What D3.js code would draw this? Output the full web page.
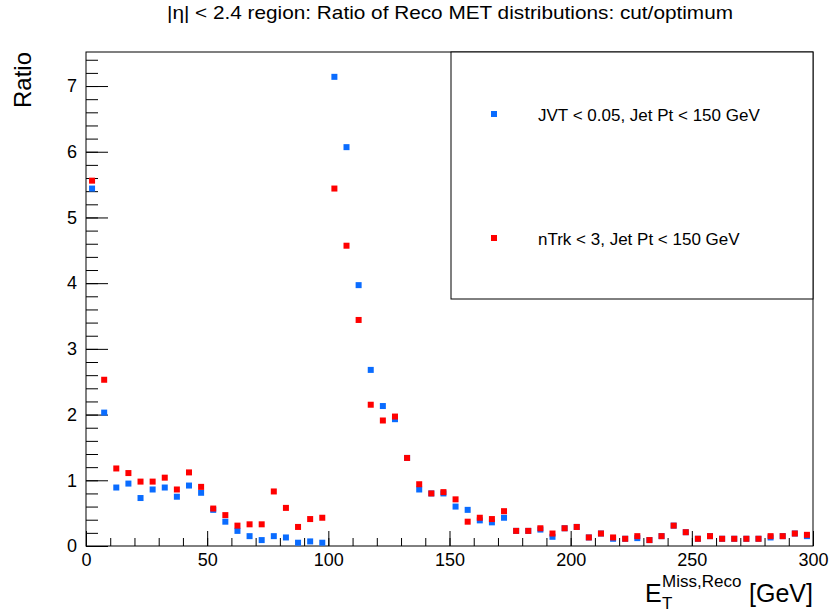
<!DOCTYPE html>
<html>
<head>
<meta charset="utf-8">
<script src="https://cdn.jsdelivr.net/npm/d3@7"></script>
<style>
  body { margin: 0; background: #fff; }
  svg { font-family: "Liberation Sans", Arial, sans-serif; }
</style>
</head>
<body>
<svg id="chart" width="830" height="612"></svg>
<script>
  // data: bin centres (GeV) and the two ratio series
  const binCenters = [
    2.5, 7.5, 12.5, 17.5, 22.5, 27.5, 32.5, 37.5, 42.5, 47.5,
    52.5, 57.5, 62.5, 67.5, 72.5, 77.5, 82.5, 87.5, 92.5, 97.5,
    102.5, 107.5, 112.5, 117.5, 122.5, 127.5, 132.5, 137.5, 142.5, 147.5,
    152.5, 157.5, 162.5, 167.5, 172.5, 177.5, 182.5, 187.5, 192.5, 197.5,
    202.5, 207.5, 212.5, 217.5, 222.5, 227.5, 232.5, 237.5, 242.5, 247.5,
    252.5, 257.5, 262.5, 267.5, 272.5, 277.5, 282.5, 287.5, 292.5, 297.5
  ]

  const jvtRatio = [
    5.44, 2.03, 0.89, 0.95, 0.73, 0.86, 0.89, 0.75, 0.92, 0.81,
    0.55, 0.37, 0.23, 0.15, 0.09, 0.15, 0.13, 0.05, 0.07, 0.05,
    7.14, 6.07, 3.97, 2.68, 2.13, 1.93, 1.34, 0.86, 0.80, 0.80,
    0.60, 0.55, 0.39, 0.36, 0.43, 0.23, 0.23, 0.25, 0.14, 0.27,
    0.29, 0.13, 0.19, 0.11, 0.11, 0.12, 0.09, 0.15, 0.31, 0.21,
    0.11, 0.15, 0.11, 0.11, 0.11, 0.11, 0.13, 0.15, 0.19, 0.15
  ]

  const ntrkRatio = [
    5.56, 2.53, 1.18, 1.11, 0.98, 0.98, 1.04, 0.86, 1.12, 0.90,
    0.57, 0.47, 0.31, 0.33, 0.33, 0.83, 0.58, 0.29, 0.41, 0.43,
    5.44, 4.57, 3.44, 2.15, 1.91, 1.97, 1.34, 0.94, 0.80, 0.82,
    0.71, 0.37, 0.43, 0.41, 0.53, 0.23, 0.23, 0.27, 0.19, 0.27,
    0.29, 0.13, 0.19, 0.13, 0.11, 0.15, 0.09, 0.15, 0.31, 0.21,
    0.11, 0.15, 0.11, 0.11, 0.11, 0.11, 0.15, 0.15, 0.19, 0.17
  ]

  const xTicks = [0, 50, 100, 150, 200, 250, 300]
  const yTicks = [0, 1, 2, 3, 4, 5, 6, 7]

  const series = [
    { name: 'JVT < 0.05, Jet Pt < 150 GeV', values: jvtRatio, color: '#0a6cff' },
    { name: 'nTrk < 3, Jet Pt < 150 GeV', values: ntrkRatio, color: '#ff0000' }
  ]

  // frame geometry
  const frameL = 86, frameR = 813, frameT = 52, frameB = 546
  const svg = d3.select('#chart')

  const x = d3.scaleLinear().domain([0, 300]).range([frameL, frameR])
  const y = d3.scaleLinear().domain([0, 7.518]).range([frameB, frameT])

  // title
  svg.append('text')
    .attr('x', 450).attr('y', 19)
    .attr('text-anchor', 'middle')
    .attr('textLength', 566)
    .attr('lengthAdjust', 'spacingAndGlyphs')
    .style('font-size', '18.5px')
    .text('|η| < 2.4 region: Ratio of Reco MET distributions: cut/optimum')

  // x axis, ticks drawn inside the frame
  svg.append('g')
    .attr('transform', `translate(0,${frameB})`)
    .call(d3.axisBottom(x).tickValues(d3.range(0, 301, 10)).tickSize(-8).tickFormat(''))
    .call(g => g.select('.domain').remove())
  svg.append('g')
    .attr('transform', `translate(0,${frameB})`)
    .call(d3.axisBottom(x).tickValues(xTicks).tickSize(-15).tickPadding(7))
    .call(g => g.select('.domain').remove())
    .call(g => g.selectAll('text').style('font-size', '18px').attr('fill', '#000'))

  // y axis
  svg.append('g')
    .attr('transform', `translate(${frameL},0)`)
    .call(d3.axisLeft(y).tickValues(d3.range(0, 7.5, 0.2)).tickSize(-12).tickFormat(''))
    .call(g => g.select('.domain').remove())
  svg.append('g')
    .attr('transform', `translate(${frameL},0)`)
    .call(d3.axisLeft(y).tickValues(yTicks).tickSize(-22).tickPadding(9))
    .call(g => g.select('.domain').remove())
    .call(g => g.selectAll('text').style('font-size', '18px').attr('fill', '#000'))

  svg.selectAll('.tick line').attr('stroke', '#000')

  // frame
  svg.append('rect')
    .attr('x', frameL).attr('y', frameT)
    .attr('width', frameR - frameL).attr('height', frameB - frameT)
    .attr('fill', 'none').attr('stroke', '#000').attr('stroke-width', 1)

  // markers
  const size = 6
  series.forEach(s => {
    svg.append('g').selectAll('rect')
      .data(binCenters.map((c, i) => [c, s.values[i]]))
      .enter().append('rect')
      .attr('x', d => x(d[0]) - size / 2)
      .attr('y', d => y(d[1]) - size / 2)
      .attr('width', size).attr('height', size)
      .attr('fill', s.color)
  })

  // legend
  svg.append('rect')
    .attr('x', 451).attr('y', frameT)
    .attr('width', frameR - 451).attr('height', 247)
    .attr('fill', '#fff').attr('stroke', '#000')
  series.forEach((s, i) => {
    const ly = 114 + i * 124
    svg.append('rect')
      .attr('x', 494 - size / 2).attr('y', ly - size / 2)
      .attr('width', size).attr('height', size)
      .attr('fill', s.color)
    svg.append('text')
      .attr('x', 538).attr('y', ly + 6.5)
      .style('font-size', '17px')
      .text(s.name)
  })

  // axis titles
  svg.append('text')
    .attr('transform', 'translate(31,52) rotate(-90)')
    .attr('text-anchor', 'end')
    .style('font-size', '24px')
    .text('Ratio')

  svg.append('text').attr('x', 645).attr('y', 602).style('font-size', '25px').text('E')
  svg.append('text').attr('x', 662).attr('y', 609).style('font-size', '17px').text('T')
  svg.append('text').attr('x', 662).attr('y', 587).style('font-size', '17px').text('Miss,Reco')
  svg.append('text').attr('x', 813).attr('y', 602).attr('text-anchor', 'end')
    .style('font-size', '25px').text('[GeV]')
</script>
</body>
</html>
